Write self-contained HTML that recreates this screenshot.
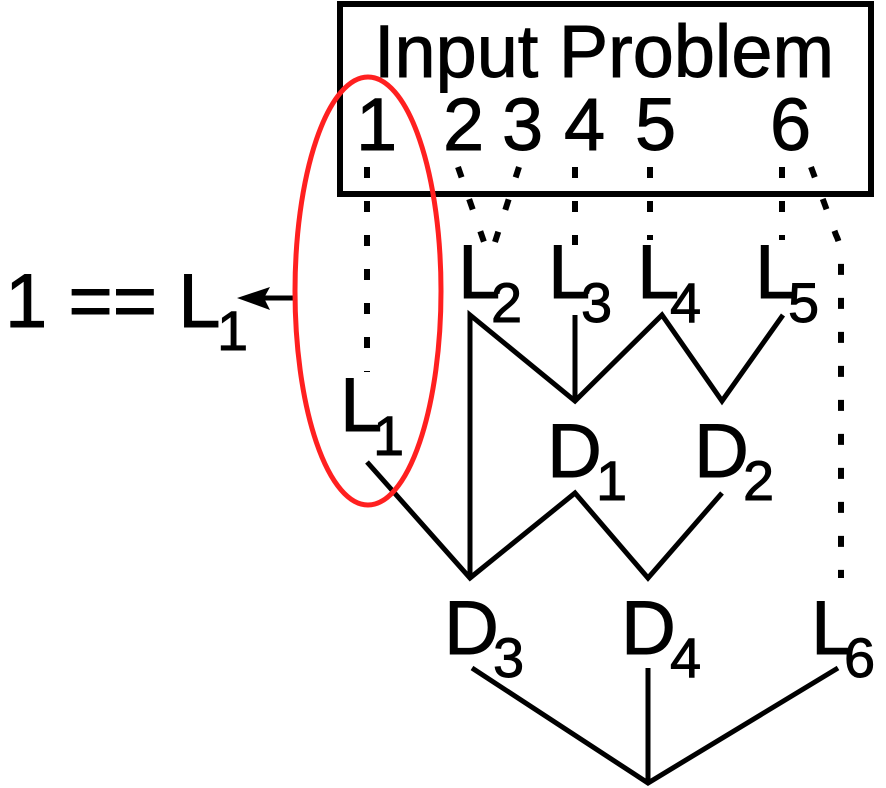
<!DOCTYPE html>
<html><head><meta charset="utf-8"><style>
html,body{margin:0;padding:0;background:#fff;}
svg{display:block;}
text{font-family:"Liberation Sans",Arial,sans-serif;fill:#000;stroke:#000;stroke-width:0.9;}
</style></head><body>
<svg width="886" height="788" viewBox="0 0 886 788" xmlns="http://www.w3.org/2000/svg">
<rect x="340" y="4" width="531" height="190" fill="none" stroke="#000" stroke-width="6"/>
<text x="374" y="77" font-size="74" textLength="460" lengthAdjust="spacingAndGlyphs">Input Problem</text>
<g font-size="74">
<text x="356" y="150">1</text>
<text x="443" y="150">2</text>
<text x="502" y="150">3</text>
<text x="564" y="150">4</text>
<text x="635" y="150">5</text>
<text x="770" y="150">6</text>
</g>
<g stroke="#000" stroke-width="6" fill="none" stroke-dasharray="11 23">
<line x1="367" y1="167" x2="367" y2="372"/>
<path d="M458 167 L484 242"/>
<path d="M519 167 L495 242"/>
<line x1="575" y1="167" x2="575" y2="245"/>
<line x1="650" y1="167" x2="650" y2="240"/>
<line x1="782" y1="167" x2="782" y2="240"/>
<path d="M811 167 L836 235 Q841 245 841 260 L841 578"/>
</g>
<g font-size="76">
<text x="458" y="298">L</text><text x="491" y="322" font-size="56">2</text>
<text x="548" y="298">L</text><text x="581" y="322" font-size="56">3</text>
<text x="637" y="298">L</text><text x="670" y="322" font-size="56">4</text>
<text x="755" y="298">L</text><text x="788" y="322" font-size="56">5</text>
<text x="340" y="431">L</text><text x="373" y="455" font-size="56">1</text>
<text x="547" y="477">D</text><text x="596" y="500" font-size="56">1</text>
<text x="694" y="477">D</text><text x="743" y="500" font-size="56">2</text>
<text x="444" y="654">D</text><text x="493" y="677" font-size="56">3</text>
<text x="621" y="654">D</text><text x="670" y="677" font-size="56">4</text>
<text x="811" y="654">L</text><text x="844" y="677" font-size="56">6</text>
<text x="5" y="327">1 == L</text><text x="217" y="350" font-size="56">1</text>
</g>
<g stroke="#000" stroke-width="5" fill="none" stroke-linejoin="miter">
<polyline points="470,578 470,315 575,401 662,315 722,401 783,315"/>
<line x1="575" y1="315" x2="575" y2="401"/>
<polyline points="367,462 470,578 575,493 648,578 722,493"/>
<polyline points="472,668 648,783 838,668"/>
<line x1="648" y1="668" x2="648" y2="783"/>
<line x1="295" y1="298" x2="262" y2="298"/>
</g>
<polygon points="237,298 270,287 264,298 270,310" fill="#000"/>
<ellipse cx="368" cy="291" rx="73" ry="214" fill="none" stroke="#ff2020" stroke-width="5"/>
</svg>
</body></html>
